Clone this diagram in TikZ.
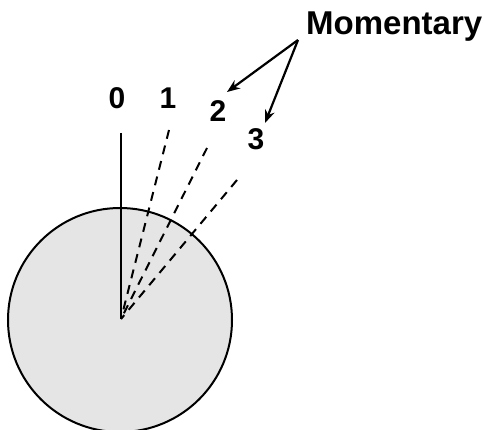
\documentclass[tikz,border=0pt]{standalone}
\usepackage{fontspec}
\setmainfont{Liberation Sans}
\usetikzlibrary{arrows.meta}

\begin{document}
\begin{tikzpicture}[
    x=1pt, y=-1pt,
    >={Stealth[length=13pt,width=10pt]},
    disk/.style={circle, draw=black, line width=2pt, fill=black!10, minimum size=224pt, inner sep=0pt},
    poslabel/.style={font=\fontsize{30}{30}\selectfont\bfseries, inner sep=0pt},
    ray/.style={line width=2pt},
    dray/.style={ray, dash pattern=on 9pt off 7pt},
    pointer/.style={->, line width=2.2pt}
  ]
    \useasboundingbox (0,0) rectangle (484,430);

    \node[disk] (disk) at (120,320) {};
    \coordinate (c) at (121,319);

    \node[poslabel] (p0) at (117,98) {0};
    \node[poslabel] (p1) at (168,98) {1};
    \node[poslabel] (p2) at (218,111) {2};
    \node[poslabel] (p3) at (256,139) {3};
    \node[font=\fontsize{33}{33}\selectfont\bfseries, inner sep=0pt, anchor=base west] (mom) at (306,35) {Momentary};

    \coordinate (t0) at (121,133);
    \coordinate (t1) at (169,130);
    \coordinate (t2) at (207,148);
    \coordinate (t3) at (237,180);
    \coordinate (ms) at (298,40);
    \coordinate (a2) at (227,92);
    \coordinate (a3) at (265,123);

    \draw[ray] (t0) -- (c);
    \foreach \k in {1,2,3}
      \draw[dray] (t\k) -- (c);

    \draw[pointer] (ms) -- (a2);
    \draw[pointer] (ms) -- (a3);
  \end{tikzpicture}
\end{document}
